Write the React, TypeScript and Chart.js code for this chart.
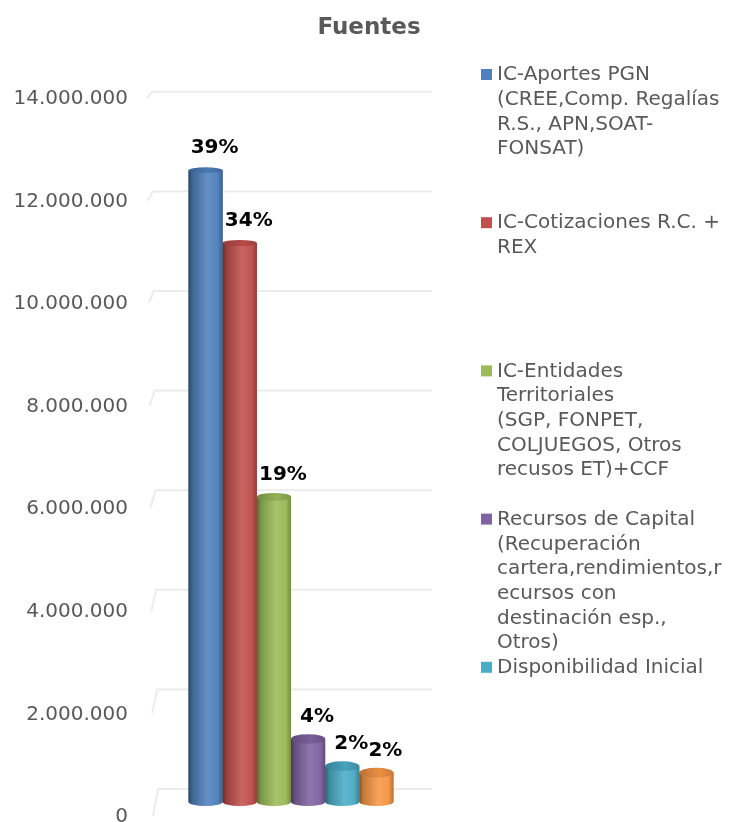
import React, { useEffect, useRef } from "react";
import { Chart, registerables } from "chart.js";

Chart.register(...registerables);

// ---------- data ----------
const TITLE = "Fuentes";
const CATEGORIES = [""];
const SERIES_NAMES = [
  "IC-Aportes PGN (CREE,Comp. Regalías R.S., APN,SOAT-FONSAT)",
  "IC-Cotizaciones R.C. + REX",
  "IC-Entidades Territoriales (SGP, FONPET, COLJUEGOS, Otros recusos ET)+CCF",
  "Recursos de Capital (Recuperación cartera,rendimientos,recursos con destinación esp., Otros)",
  "Disponibilidad Inicial",
  "Otras fuentes",
];
// legend text as wrapped in the reference (the 6th entry does not fit and is not shown)
const LEGEND_LINES = [
  ["IC-Aportes PGN", "(CREE,Comp. Regalías", "R.S., APN,SOAT-", "FONSAT)"],
  ["IC-Cotizaciones R.C. +", "REX"],
  ["IC-Entidades", "Territoriales", "(SGP, FONPET,", "COLJUEGOS, Otros", "recusos ET)+CCF"],
  ["Recursos de Capital", "(Recuperación", "cartera,rendimientos,r", "ecursos con", "destinación esp.,", "Otros)"],
  ["Disponibilidad Inicial"],
];
const SERIES_VALUES = [12320000, 10900000, 5950000, 1230000, 700000, 570000];
const SERIES_COLORS = ["#4f81bd", "#c0504d", "#9bbb59", "#8064a2", "#4bacc6", "#f79646"];
const Y_TICKS = [0, 2000000, 4000000, 6000000, 8000000, 10000000, 12000000, 14000000];

// ---------- styling ----------
const FONT = '"DejaVu Sans", Verdana, sans-serif';
const TEXT_GRAY = "#595959";
const LABEL_OFFSET = 15;
const LEGEND_LINE_H = 24.7;

function fmt(v: number): string {
  return String(Math.round(v)).replace(/\B(?=(\d{3})+(?!\d))/g, ".");
}

function shade(hex: string, amt: number): string {
  const n = parseInt(hex.slice(1), 16);
  let r = (n >> 16) & 255, g = (n >> 8) & 255, b = n & 255;
  const f = (c: number) =>
    Math.round(amt >= 0 ? c + (255 - c) * amt : c * (1 + amt));
  r = f(r); g = f(g); b = f(b);
  return `rgb(${r},${g},${b})`;
}

const total = SERIES_VALUES.reduce((a, b) => a + b, 0);

const gridPlugin = {
  id: "grid3d",
  beforeDatasetsDraw(chart: any) {
    const { ctx, chartArea, scales } = chart;
    const y = scales.y;
    const base = y.getPixelForValue(0);
    const top = y.getPixelForValue(Y_TICKS[Y_TICKS.length - 1]);
    const span = base - top;
    ctx.save();
    ctx.strokeStyle = "#ececec";
    ctx.lineWidth = 2;
    for (const v of Y_TICKS) {
      const p = y.getPixelForValue(v);
      const t = (base - p) / span;
      const frontX = chartArea.left + 3 - 6 * t;
      const frontY = p + LABEL_OFFSET - 1;
      const backX = frontX + 5;
      const backY = base - 13 - (base - p) * 0.971;
      ctx.beginPath();
      ctx.moveTo(frontX, frontY);
      ctx.lineTo(backX, backY);
      ctx.lineTo(chartArea.right, backY);
      ctx.stroke();
    }
    ctx.restore();
  },
};

const cylinderPlugin = {
  id: "cylinders",
  afterDatasetsDraw(chart: any) {
    const { ctx, chartArea } = chart;
    const h = chartArea.bottom - chartArea.top;
    chart.data.datasets.forEach((ds: any, i: number) => {
      const meta = chart.getDatasetMeta(i);
      const color = SERIES_COLORS[i];
      meta.data.forEach((el: any) => {
        const { x, y, base, width } = el.getProps(["x", "y", "base", "width"], true);
        const l = x - width / 2;
        const r = x + width / 2;
        const rx = width / 2;
        const ryTop = 2.5 + 2.5 * ((y - chartArea.top) / h);
        const ryBot = 4;
        const g = ctx.createLinearGradient(l, 0, r, 0);
        g.addColorStop(0, shade(color, -0.45));
        g.addColorStop(0.12, shade(color, -0.2));
        g.addColorStop(0.55, shade(color, 0.12));
        g.addColorStop(0.85, shade(color, 0.02));
        g.addColorStop(1, shade(color, -0.25));
        ctx.save();
        ctx.fillStyle = g;
        ctx.beginPath();
        ctx.moveTo(l, y);
        ctx.lineTo(l, base);
        ctx.ellipse(x, base, rx, ryBot, 0, Math.PI, 0, true);
        ctx.lineTo(r, y);
        ctx.closePath();
        ctx.fill();
        // top face
        const gt = ctx.createLinearGradient(l, 0, r, 0);
        gt.addColorStop(0, shade(color, -0.25));
        gt.addColorStop(0.6, shade(color, -0.05));
        gt.addColorStop(1, shade(color, -0.2));
        ctx.fillStyle = gt;
        ctx.beginPath();
        ctx.ellipse(x, y, rx, ryTop, 0, 0, Math.PI * 2);
        ctx.fill();
        ctx.restore();
      });
    });
    // data labels
    ctx.save();
    ctx.font = `bold 20px ${FONT}`;
    ctx.fillStyle = "#000000";
    ctx.textAlign = "center";
    ctx.textBaseline = "middle";
    chart.data.datasets.forEach((ds: any, i: number) => {
      const meta = chart.getDatasetMeta(i);
      meta.data.forEach((el: any, j: number) => {
        const { x, y } = el.getProps(["x", "y"], true);
        const pct = Math.round((ds.data[j] / total) * 100) + "%";
        ctx.fillText(pct, x + 9, y - 22);
      });
    });
    ctx.restore();
  },
};

const decorPlugin = {
  id: "decor",
  afterDraw(chart: any) {
    const { ctx, chartArea } = chart;
    ctx.save();
    // title
    ctx.font = `bold 23px ${FONT}`;
    ctx.fillStyle = TEXT_GRAY;
    ctx.textAlign = "center";
    ctx.textBaseline = "middle";
    ctx.fillText(TITLE, 369, 28);
    // legend
    ctx.font = `20px ${FONT}`;
    ctx.textAlign = "left";
    const maxLines = Math.max(...LEGEND_LINES.map((l) => l.length));
    const slot = maxLines * LEGEND_LINE_H;
    const mx = chartArea.right + 49;
    const tx = mx + 16;
    const y0 = 75;
    LEGEND_LINES.forEach((lines, i) => {
      const yy = y0 + i * slot;
      ctx.fillStyle = SERIES_COLORS[i];
      ctx.fillRect(mx, yy - 6, 11, 11);
      ctx.fillStyle = TEXT_GRAY;
      lines.forEach((ln, k) => ctx.fillText(ln, tx, yy + k * LEGEND_LINE_H));
    });
    ctx.restore();
  },
};

export default function App() {
  const ref = useRef<HTMLCanvasElement | null>(null);
  useEffect(() => {
    if (!ref.current) return;
    Chart.defaults.font.family = FONT;
    const chart = new Chart(ref.current, {
      type: "bar",
      data: {
        labels: CATEGORIES,
        datasets: SERIES_NAMES.map((name, i) => ({
          label: name,
          data: [SERIES_VALUES[i]],
          backgroundColor: SERIES_COLORS[i],
          borderWidth: 0,
          categoryPercentage: 0.727,
          barPercentage: 1,
        })),
      },
      options: {
        animation: false,
        responsive: true,
        maintainAspectRatio: false,
        devicePixelRatio: 1,
        layout: { padding: { left: 0, right: 297, top: 84, bottom: 20 } },
        plugins: {
          legend: { display: false },
          title: { display: false },
          tooltip: { enabled: false },
        },
        scales: {
          x: { display: false },
          y: {
            min: 0,
            max: 14000000,
            afterFit: (s: any) => {
              s.width = 150;
              s.paddingTop = 0;
              s.paddingBottom = 0;
            },
            afterBuildTicks: (s: any) => {
              s.ticks = Y_TICKS.map((v) => ({ value: v }));
            },
            border: { display: false },
            grid: { display: false, drawTicks: false },
            ticks: {
              padding: 22,
              labelOffset: LABEL_OFFSET,
              color: TEXT_GRAY,
              font: { size: 20, family: FONT },
              callback: (v: any) => fmt(Number(v)),
            },
          },
        },
      },
      plugins: [gridPlugin, cylinderPlugin, decorPlugin],
    });
    return () => chart.destroy();
  }, []);
  return (
    <div
      style={{
        position: "fixed",
        left: 0,
        top: 0,
        width: 729,
        height: 822,
        background: "#ffffff",
      }}
    >
      <canvas ref={ref} />
    </div>
  );
}
